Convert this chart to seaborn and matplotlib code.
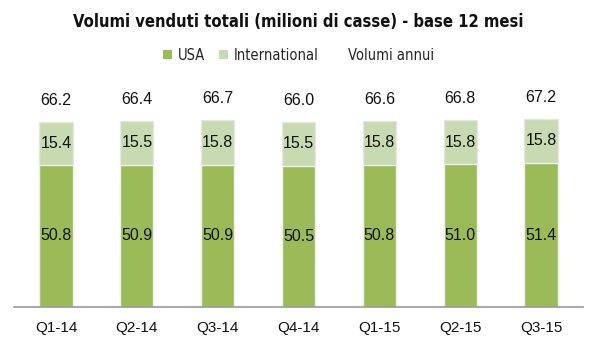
import matplotlib
matplotlib.use("Agg")
import matplotlib.pyplot as plt
import seaborn as sns
import numpy as np
from matplotlib.patches import Patch
from matplotlib.lines import Line2D
from matplotlib import font_manager as fm

quarters = ["Q1-14", "Q2-14", "Q3-14", "Q4-14", "Q1-15", "Q2-15", "Q3-15"]
usa = [50.8, 50.9, 50.9, 50.5, 50.8, 51.0, 51.4]
intl = [15.4, 15.5, 15.8, 15.5, 15.8, 15.8, 15.8]
totals = [66.2, 66.4, 66.7, 66.0, 66.6, 66.8, 67.2]

sns.set_theme(style="white")
plt.rcParams['font.family'] = ['Liberation Sans', 'DejaVu Sans']

c_usa = "#9BBB59"
c_intl = "#C8DAB0"

fig = plt.figure(figsize=(5.97, 3.44), dpi=100)
ax = fig.add_axes([0.0235, 0.1076, 0.953, 0.651])

stack = [u + i for u, i in zip(usa, intl)]
sns.barplot(x=quarters, y=stack, color=c_intl, width=0.41, ax=ax,
            edgecolor="#E6E6E6", linewidth=1.0, saturation=1)
sns.barplot(x=quarters, y=usa, color=c_usa, width=0.41, ax=ax,
            edgecolor="#F0F0F0", linewidth=1.0, saturation=1)

fs = 11.5
for i in range(len(quarters)):
    ax.text(i, usa[i] / 2, f"{usa[i]:.1f}", ha="center", va="center", fontsize=fs, color="#111111")
    ax.text(i, usa[i] + intl[i] / 2, f"{intl[i]:.1f}", ha="center", va="center", fontsize=fs, color="#111111")
    ax.annotate(f"{totals[i]:.1f}", (i, totals[i]), xytext=(0, 10), textcoords="offset points",
                ha="center", va="bottom", fontsize=fs, color="#111111")

ax.set_ylim(0, 80)
ax.set_xlim(-0.52, 6.52)
ax.set_yticks([])
ax.set_xlabel("")
ax.set_ylabel("")
for s in ["top", "right", "left"]:
    ax.spines[s].set_visible(False)
ax.spines["bottom"].set_color("#999999")
ax.spines["bottom"].set_linewidth(1.2)
ax.tick_params(axis="x", length=0, pad=10, labelsize=11, labelcolor="#111111")

title_fp = fm.FontProperties(family="DejaVu Sans", stretch="condensed", weight="bold", size=11.9)
leg_fp = fm.FontProperties(family="DejaVu Sans", stretch="condensed", size=10.5)
fig.text(0.5, 0.935, "Volumi venduti totali (milioni di casse) - base 12 mesi", ha="center", va="center",
         fontproperties=title_fp, color="#111111")

handles = [Patch(facecolor=c_usa, edgecolor="none"),
           Patch(facecolor=c_intl, edgecolor="none"),
           Line2D([], [], color="none")]
leg = fig.legend(handles, ["USA", "International", "Volumi annui"], loc="center",
                 bbox_to_anchor=(0.5, 0.84), ncol=3, frameon=False,
                 prop=leg_fp, handlelength=0.6, handleheight=0.6,
                 handletextpad=0.4, columnspacing=1.0)

fig.savefig("out.png", dpi=100)
